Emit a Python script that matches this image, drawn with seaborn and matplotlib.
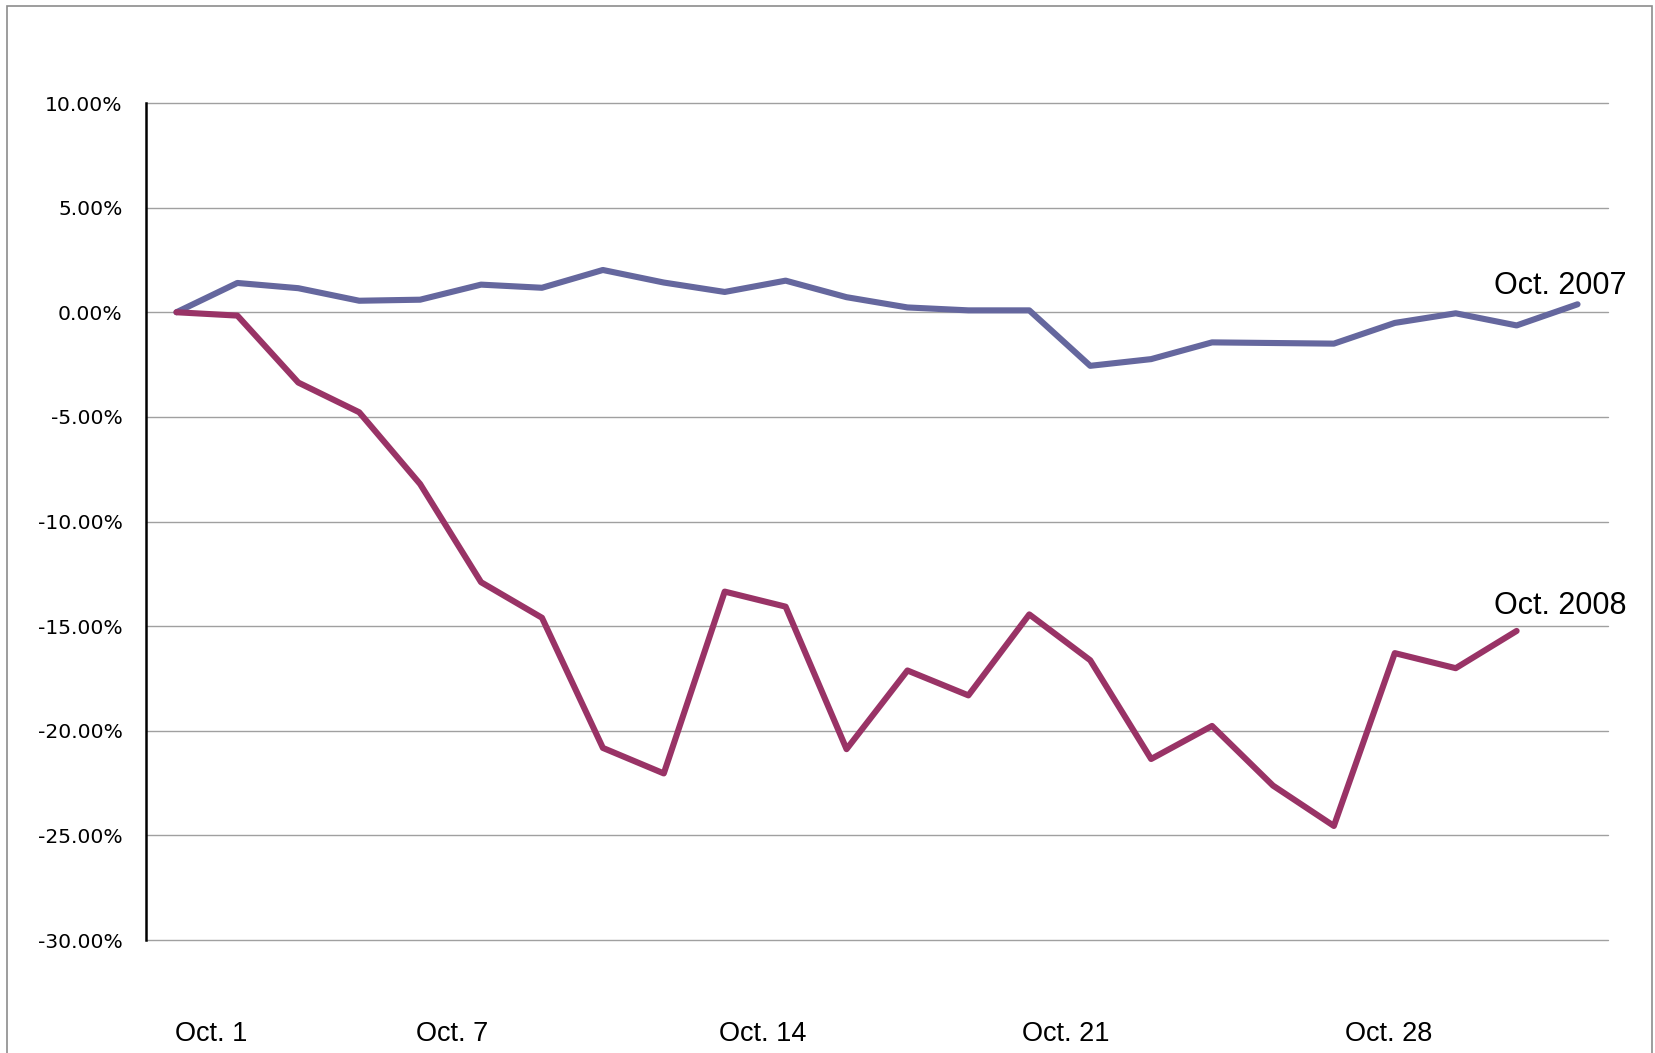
import pandas as pd
import numpy as np
import matplotlib
matplotlib.use("Agg")
import matplotlib.pyplot as plt
import seaborn as sns
from matplotlib.patches import Rectangle
from matplotlib.ticker import FuncFormatter


# cumulative change from Sep. 30 close, in percent, one value per trading day
oct_2007 = [0.00, 1.40, 1.15, 0.55, 0.60, 1.32, 1.17, 2.02, 1.42, 0.97, 1.51,
            0.72, 0.23, 0.09, 0.09, -2.56, -2.24, -1.44, -1.47, -1.50, -0.51,
            -0.05, -0.63, 0.38]
oct_2008 = [0.00, -0.16, -3.36, -4.78, -8.21, -12.90, -14.60, -20.82, -22.04,
            -13.35, -14.07, -20.88, -17.12, -18.31, -14.44, -16.63, -21.35,
            -19.77, -22.62, -24.55, -16.29, -17.01, -15.23]

tick_pos = [0.57, 4.52, 9.63, 14.6, 19.9]
tick_labels = ["Oct. 1", "Oct. 7", "Oct. 14", "Oct. 21", "Oct. 28"]
y_ticks = [10, 5, 0, -5, -10, -15, -20, -25, -30]

colors = {"Oct. 2007": "#65679e", "Oct. 2008": "#993366"}


df = pd.concat([
    pd.DataFrame({"day": np.arange(len(oct_2007)), "pct": oct_2007, "year": "Oct. 2007"}),
    pd.DataFrame({"day": np.arange(len(oct_2008)), "pct": oct_2008, "year": "Oct. 2008"}),
], ignore_index=True)

sns.set_style("white")
plt.rcParams["font.family"] = ["DejaVu Sans"]
plt.rcParams["text.color"] = "black"
plt.rcParams["xtick.color"] = "black"
plt.rcParams["ytick.color"] = "black"

fig = plt.figure(figsize=(16.55, 10.53), dpi=100)
ax = fig.add_axes([146 / 1655, 1 - 940 / 1053, (1608 - 146) / 1655, (940 - 103) / 1053])

sns.lineplot(data=df, x="day", y="pct", hue="year", palette=colors,
             linewidth=4.4, legend=False, ax=ax, zorder=3)

ax.set_xlim(-0.5, 23.5)
ax.set_ylim(-30, 10)
ax.set_yticks(y_ticks)
ax.yaxis.set_major_formatter(FuncFormatter(lambda v, _: f"{v:.2f}%"))
ax.set_xticks(tick_pos)
ax.set_xticklabels(tick_labels, fontsize=19.5, family="Liberation Sans")
ax.tick_params(axis="x", length=0, pad=58)
ax.tick_params(axis="y", length=0, pad=17, labelsize=14.6)
ax.set_xlabel("")
ax.set_ylabel("")

ax.grid(axis="y", color="#a0a0a0", linewidth=1.0)
ax.grid(axis="x", visible=False)
for gl in ax.get_ygridlines():
    gl.set_clip_on(False)
for side in ["top", "right", "bottom"]:
    ax.spines[side].set_visible(False)
ax.spines["left"].set_color("black")
ax.spines["left"].set_linewidth(1.8)
ax.spines["left"].set_zorder(4)

# series names at the line ends
ax.annotate("Oct. 2007", xy=(len(oct_2007) - 1, oct_2007[-1]), xytext=(35, 7.5),
            textcoords="offset points", ha="right", va="baseline",
            fontsize=22, family="Liberation Sans", annotation_clip=False)
ax.annotate("Oct. 2008", xy=(len(oct_2008) - 1, oct_2008[-1]), xytext=(79, 12),
            textcoords="offset points", ha="right", va="baseline",
            fontsize=22, family="Liberation Sans", annotation_clip=False)

fig.patches.append(Rectangle((7 / 1655, -0.02), (1652 - 7) / 1655, 1.02 - 6 / 1053,
                             transform=fig.transFigure, fill=False,
                             edgecolor="#8c8c8c", linewidth=1.2))

fig.savefig("out.png", dpi=100)
